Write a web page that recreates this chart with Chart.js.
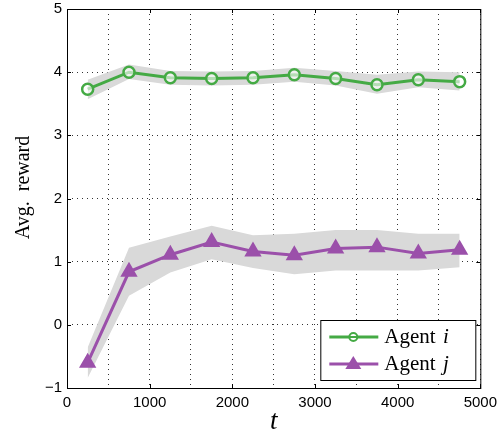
<!DOCTYPE html>
<html>
<head>
<meta charset="utf-8">
<script src="https://cdn.jsdelivr.net/npm/chart.js@4.4.1/dist/chart.umd.min.js"></script>
<style>
  html, body { margin: 0; padding: 0; background: #fff; overflow: hidden; }
  #wrap { width: 499px; height: 438px; overflow: hidden; }
  #myChart { display: block; margin-top: -5px; }
</style>
</head>
<body>
<div id="wrap"><canvas id="myChart" width="503" height="443"></canvas></div>
<script>
// data
const steps = [250, 750, 1250, 1750, 2250, 2750, 3250, 3750, 4250, 4750];
const agentI = [3.73, 4.00, 3.91, 3.90, 3.91, 3.96, 3.90, 3.80, 3.88, 3.85];
const agentIUpper = [3.88, 4.12, 4.02, 4.01, 4.02, 4.07, 4.02, 3.96, 4.01, 4.00];
const agentILower = [3.57, 3.89, 3.80, 3.79, 3.80, 3.85, 3.79, 3.66, 3.76, 3.71];
const agentJ = [-0.60, 0.84, 1.11, 1.31, 1.16, 1.10, 1.21, 1.23, 1.13, 1.19];
const agentJUpper = [-0.36, 1.22, 1.40, 1.57, 1.42, 1.44, 1.50, 1.50, 1.44, 1.44];
const agentJLower = [-0.84, 0.46, 0.83, 1.04, 0.90, 0.80, 0.86, 0.86, 0.86, 0.91];
const seriesLabels = ['Agent ', 'Agent '];
const seriesVars = ['i', 'j'];
const xTicks = [0, 1000, 2000, 3000, 4000, 5000];
const yTicks = [-1, 0, 1, 2, 3, 4, 5];

const green = 'rgb(68,170,68)';
const purple = 'rgb(155,80,170)';
const band = 'rgb(217,217,217)';

const pts = arr => arr.map((v, i) => ({ x: steps[i], y: v }));

// box, inner ticks, y title and legend, matlab style
const framePlugin = {
    id: 'frame',
    afterDraw(chart) {
        const ctx = chart.ctx;
        const a = chart.chartArea;
        const xs = chart.scales.x, ys = chart.scales.y;
        ctx.save();
        ctx.strokeStyle = '#000';
        ctx.lineWidth = 1;
        ctx.strokeRect(a.left + 0.5, a.top + 0.5, a.right - a.left, a.bottom - a.top);
        ctx.beginPath();
        xTicks.forEach(t => {
            const px = Math.round(xs.getPixelForValue(t)) + 0.5;
            ctx.moveTo(px, a.bottom); ctx.lineTo(px, a.bottom - 4);
            ctx.moveTo(px, a.top); ctx.lineTo(px, a.top + 4);
        });
        yTicks.forEach(t => {
            const py = Math.round(ys.getPixelForValue(t)) + 0.5;
            ctx.moveTo(a.left, py); ctx.lineTo(a.left + 4, py);
            ctx.moveTo(a.right, py); ctx.lineTo(a.right - 4, py);
        });
        ctx.stroke();

        // y title
        ctx.save();
        ctx.translate(24, (a.top + a.bottom) / 2 - 11);
        ctx.rotate(-Math.PI / 2);
        ctx.fillStyle = '#000';
        ctx.textAlign = 'center';
        ctx.textBaseline = 'middle';
        ctx.font = '20px "Liberation Serif"';
        ctx.fillText('Avg.  reward', 0, 0);
        ctx.restore();

        // legend
        const bw = 155, bh = 60;
        const bx = a.right - 5 - bw, by = a.bottom - 8 - bh;
        ctx.fillStyle = '#fff';
        ctx.fillRect(bx, by, bw, bh);
        ctx.strokeRect(bx + 0.5, by + 0.5, bw, bh);
        const colors = [green, purple];
        colors.forEach((c, k) => {
            const y = by + 17 + k * 27;
            ctx.strokeStyle = c;
            ctx.lineWidth = 3;
            ctx.beginPath();
            ctx.moveTo(bx + 9, y); ctx.lineTo(bx + 58, y);
            ctx.stroke();
            const mx = bx + 33;
            if (k === 0) {
                ctx.lineWidth = 2;
                ctx.fillStyle = '#fff';
                ctx.beginPath();
                ctx.arc(mx, y, 4, 0, Math.PI * 2);
                ctx.fill(); ctx.stroke();
                ctx.beginPath();
                ctx.moveTo(mx - 4, y); ctx.lineTo(mx + 4, y);
                ctx.stroke();
            } else {
                ctx.fillStyle = c;
                ctx.beginPath();
                ctx.moveTo(mx, y - 8); ctx.lineTo(mx + 8, y + 5); ctx.lineTo(mx - 8, y + 5);
                ctx.closePath();
                ctx.fill();
            }
            ctx.fillStyle = '#000';
            ctx.textBaseline = 'middle';
            ctx.textAlign = 'left';
            ctx.font = '21px "Liberation Serif"';
            ctx.fillText(seriesLabels[k], bx + 64, y);
            const w = ctx.measureText(seriesLabels[k]).width;
            ctx.font = 'italic 21px "Liberation Serif"';
            ctx.fillText(seriesVars[k], bx + 64 + w + 2, y);
        });
        ctx.restore();
    }
};

const ctx = document.getElementById('myChart').getContext('2d');
const myChart = new Chart(ctx, {
    type: 'line',
    data: {
        datasets: [
            { data: pts(agentIUpper), borderWidth: 0, pointRadius: 0, fill: false, order: 10 },
            { data: pts(agentILower), borderWidth: 0, pointRadius: 0, fill: '-1', backgroundColor: band, order: 10 },
            { data: pts(agentJUpper), borderWidth: 0, pointRadius: 0, fill: false, order: 10 },
            { data: pts(agentJLower), borderWidth: 0, pointRadius: 0, fill: '-1', backgroundColor: band, order: 10 },
            {
                label: 'Agent i',
                data: pts(agentI),
                borderColor: green,
                borderWidth: 3,
                pointStyle: 'circle',
                pointRadius: 5.5,
                pointBorderWidth: 2.5,
                pointBackgroundColor: 'rgba(255,255,255,0.6)',
                pointBorderColor: green,
                fill: false,
                order: 1
            },
            {
                label: 'Agent j',
                data: pts(agentJ),
                borderColor: purple,
                borderWidth: 3,
                pointStyle: 'triangle',
                pointRadius: 8,
                pointBorderWidth: 2,
                pointBackgroundColor: purple,
                pointBorderColor: purple,
                fill: false,
                order: 0
            }
        ]
    },
    options: {
        responsive: false,
        animation: false,
        layout: { padding: { top: 4, right: 12, left: 0, bottom: 0 } },
        scales: {
            x: {
                type: 'linear',
                min: 0,
                max: 5000,
                afterFit: s => { s.height = 50; },
                afterBuildTicks: s => { s.ticks = [];
                    for (let v = 0; v <= 5000; v += 500) s.ticks.push({ value: v }); },
                grid: { color: '#333', lineWidth: 1, drawTicks: false },
                border: { display: false, dash: [1, 4] },
                ticks: {
                    padding: 6,
                    color: '#000',
                    font: { family: '"Liberation Sans"', size: 15 },
                    callback: v => (v % 1000 === 0 ? String(v) : '')
                },
                title: {
                    display: true,
                    text: 't',
                    color: '#000',
                    font: { family: '"Liberation Serif"', size: 27, style: 'italic' },
                    padding: { top: 0, bottom: 0 }
                }
            },
            y: {
                min: -1,
                max: 5,
                afterFit: s => { s.width = 67; },
                ticks: {
                    stepSize: 1,
                    padding: 5,
                    color: '#000',
                    font: { family: '"Liberation Sans"', size: 15 },
                    callback: v => String(v).replace('-', '\u2212')
                },
                grid: { color: '#333', lineWidth: 1, drawTicks: false },
                border: { display: false, dash: [1, 4] }
            }
        },
        plugins: {
            legend: { display: false },
            tooltip: { enabled: false }
        }
    },
    plugins: [framePlugin]
});
</script>
</body>
</html>
